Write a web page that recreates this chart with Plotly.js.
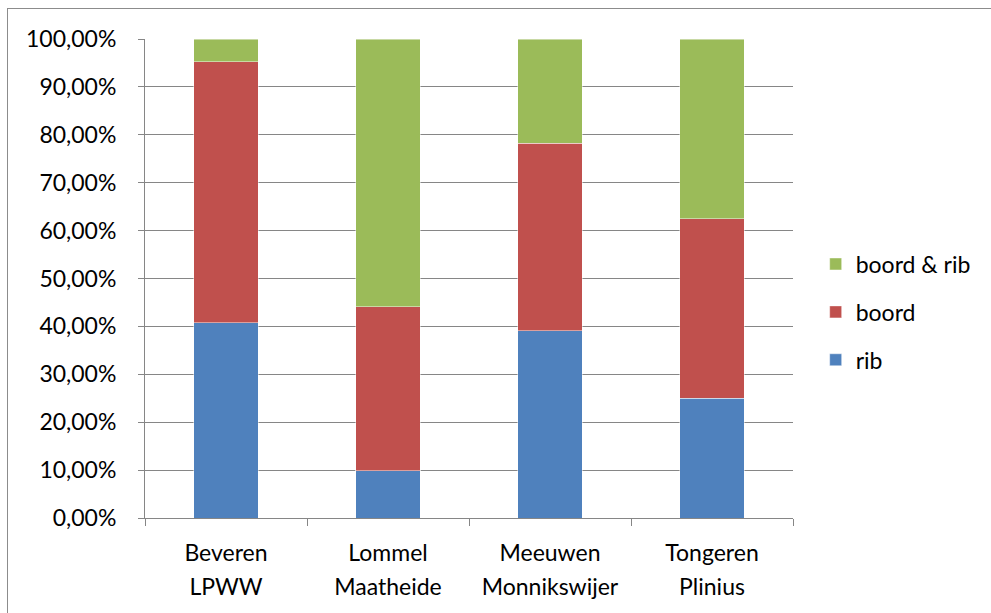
<!DOCTYPE html>
<html>
<head>
<meta charset="utf-8">
<script src="https://cdn.plot.ly/plotly-3.0.1.min.js"></script>
<style>
  html, body { margin: 0; padding: 0; background: #ffffff; }
  #frame { position: absolute; left: 7px; top: 8px; width: 1100px; height: 700px; border: 1px solid #8c8c8c; }
  #chart { position: absolute; left: 0; top: 0; width: 991px; height: 613px; }
</style>
</head>
<body>
<div id="frame"></div>
<div id="chart"></div>
<script>
// Sites (two-line category labels)
const sites = ['Beveren<br>LPWW', 'Lommel<br>Maatheide', 'Meeuwen<br>Monnikswijer', 'Tongeren<br>Plinius'];

// Share of each damage type per site, in percent
const rib = [40.8, 9.9, 39.13, 25.0];
const boord = [54.5, 34.2, 39.13, 37.5];
const boordEnRib = [4.7, 55.9, 21.74, 37.5];

// Y-axis tick labels
const yTickVals = [0, 10, 20, 30, 40, 50, 60, 70, 80, 90, 100];
const yTickText = ['0,00%', '10,00%', '20,00%', '30,00%', '40,00%', '50,00%',
                   '60,00%', '70,00%', '80,00%', '90,00%', '100,00%'];

const fontFam = 'Lato, "Open Sans", "DejaVu Sans", sans-serif';
const textSize = 23;
const catLabels = sites.map(s => s.split('<br>').map(p => '<span style="font-size:' + textSize + 'px">' + p + '</span>').join('<br>'));

// Legend lists the top segment first
function bar(name, vals, color, rank) {
  return {
    type: 'bar', name: name, x: sites, y: vals, legendgroup: name, legendrank: rank,
    marker: { color: color, line: { color: 'rgba(255,255,255,0.45)', width: 1 } },
    width: 0.4, hoverinfo: 'name+y'
  };
}

const data = [
  bar('rib', rib, '#4F81BD', 3),
  bar('boord', boord, '#C0504D', 2),
  bar('boord & rib', boordEnRib, '#9BBB59', 1)
];

const layout = {
  width: 991, height: 613,
  margin: { l: 145, r: 198, t: 39, b: 95, pad: 0 },
  paper_bgcolor: 'rgba(0,0,0,0)',
  plot_bgcolor: 'rgba(0,0,0,0)',
  barmode: 'stack',
  font: { family: fontFam, size: textSize, color: '#000000' },
  showlegend: true,
  legend: {
    x: 1.035, xanchor: 'left', y: 0.43, yanchor: 'middle',
    traceorder: 'grouped', tracegroupgap: 15,
    font: { family: fontFam, size: textSize, color: '#000000' },
    bgcolor: 'rgba(0,0,0,0)'
  },
  xaxis: {
    type: 'category',
    tickvals: sites, ticktext: catLabels,
    tickson: 'boundaries',
    ticks: 'outside', ticklen: 7, tickcolor: '#868686', tickwidth: 1,
    showline: true, linecolor: '#868686', linewidth: 1,
    showgrid: false,
    tickfont: { family: fontFam, size: 26, color: '#000000' },
    ticklabelstandoff: 11,
    fixedrange: true
  },
  yaxis: {
    range: [0, 100],
    tickvals: yTickVals, ticktext: yTickText,
    ticks: 'outside', ticklen: 6, tickcolor: '#868686', tickwidth: 1,
    showline: true, linecolor: '#868686', linewidth: 1,
    showgrid: true, gridcolor: '#868686', gridwidth: 1,
    zeroline: false,
    tickfont: { family: fontFam, size: textSize, color: '#000000' },
    ticklabelstandoff: 17,
    fixedrange: true
  }
};

Plotly.newPlot('chart', data, layout, { displayModeBar: false, staticPlot: true });
</script>
</body>
</html>
